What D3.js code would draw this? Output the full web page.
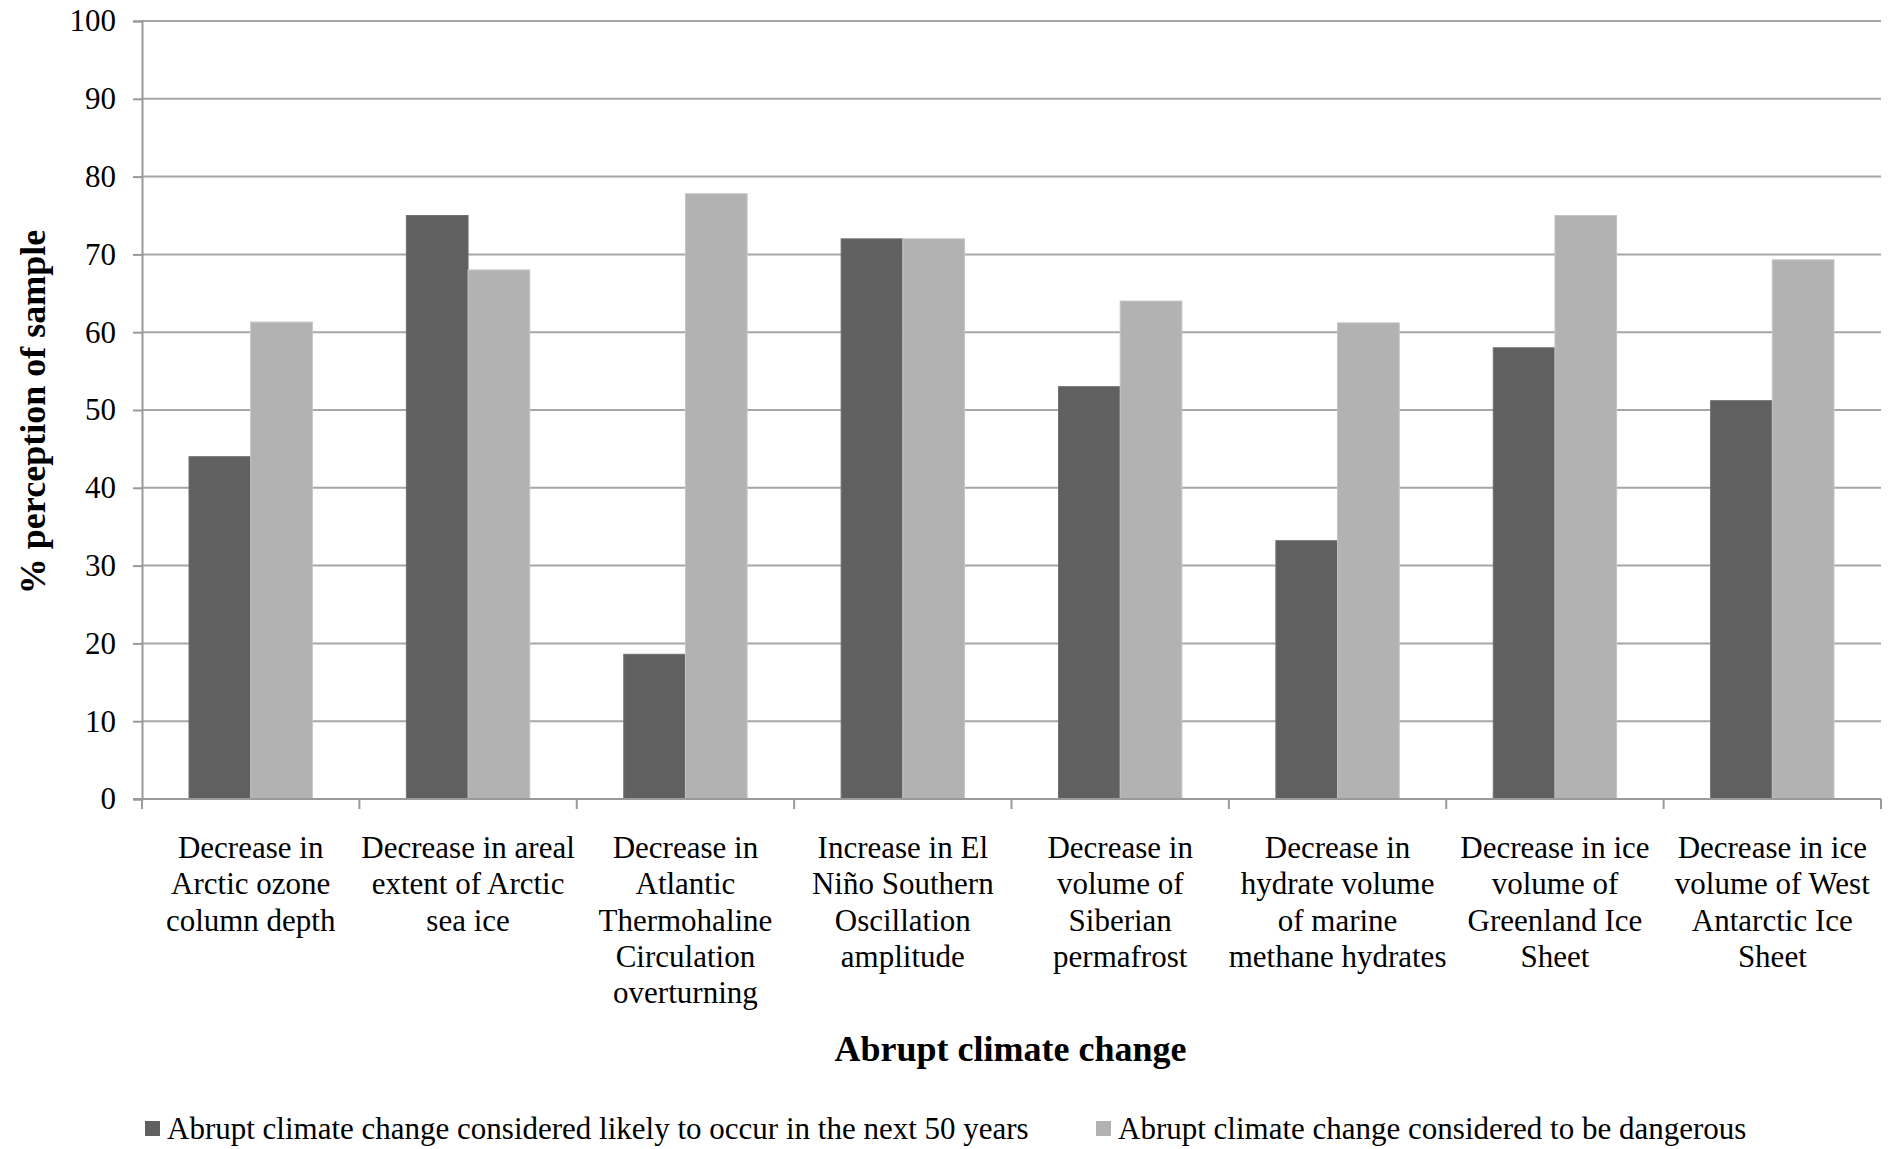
<!DOCTYPE html>
<html>
<head>
<meta charset="utf-8">
<script src="https://cdn.jsdelivr.net/npm/d3@7/dist/d3.min.js"></script>
<style>
  html, body { margin: 0; padding: 0; background: #fff; }
  svg text { font-family: "Liberation Serif", "DejaVu Serif", serif; fill: #000; }
</style>
</head>
<body>
<svg id="chart" width="1899" height="1149"></svg>
<script>
// Survey results: perception of abrupt climate change events
const categories = [
  ["Decrease in", "Arctic ozone", "column depth"],
  ["Decrease in areal", "extent of  Arctic", "sea ice"],
  ["Decrease in", "Atlantic", "Thermohaline", "Circulation", "overturning"],
  ["Increase in El", "Niño Southern", "Oscillation", "amplitude"],
  ["Decrease in", "volume of", "Siberian", "permafrost"],
  ["Decrease in", "hydrate volume", "of marine", "methane hydrates"],
  ["Decrease in ice", "volume of", "Greenland Ice", "Sheet"],
  ["Decrease in ice", "volume of West", "Antarctic Ice", "Sheet"]
];
const likelyValues    = [44, 75, 18.6, 72, 53, 33.2, 58, 51.2];
const dangerousValues = [61.3, 68, 77.8, 72, 64, 61.2, 75, 69.3];
const seriesNames = [
  "Abrupt climate change considered likely to occur in the next 50 years",
  "Abrupt climate change considered to be dangerous"
];
const yTicks = [0, 10, 20, 30, 40, 50, 60, 70, 80, 90, 100];
const yTitle = "% perception of sample";
const xTitle = "Abrupt climate change";

const colors = ["#606060", "#b2b2b2"];
const strokes = ["#707070", "#c4c4c4"];

const svg = d3.select("#chart");
const plotLeft = 142, plotRight = 1881, plotTop = 21, plotBottom = 799;

const x = d3.scaleBand()
  .domain(d3.range(categories.length))
  .range([plotLeft, plotRight])
  .paddingInner(0)
  .paddingOuter(0);
const inner = d3.scaleBand()
  .domain([0, 1])
  .range([0, x.bandwidth()])
  .paddingOuter(0.762)
  .paddingInner(0);
const y = d3.scaleLinear().domain([0, 100]).range([plotBottom, plotTop]);

// gridlines
svg.append("g").selectAll("line")
  .data(yTicks.filter(d => d > 0))
  .join("line")
  .attr("x1", plotLeft).attr("x2", plotRight)
  .attr("y1", d => y(d)).attr("y2", d => y(d))
  .attr("stroke", "#a6a6a6").attr("stroke-width", 2);

// value axis
const yAxis = svg.append("g")
  .attr("transform", `translate(${plotLeft},0)`)
  .call(d3.axisLeft(y).tickValues(yTicks).tickSize(9).tickPadding(17));
yAxis.select(".domain").attr("stroke", "#9a9a9a").attr("stroke-width", 2);
yAxis.selectAll(".tick line").attr("stroke", "#9a9a9a").attr("stroke-width", 2);
yAxis.selectAll(".tick text")
  .style("font-family", "Liberation Serif, serif")
  .style("font-size", "31px").attr("fill", "#000");

// bars
const series = [likelyValues, dangerousValues];
series.forEach((vals, s) => {
  svg.append("g").selectAll("rect")
    .data(vals)
    .join("rect")
    .attr("x", (d, i) => x(i) + inner(s))
    .attr("width", inner.bandwidth())
    .attr("y", d => y(d))
    .attr("height", d => y(0) - y(d))
    .attr("fill", colors[s])
    .attr("stroke", strokes[s])
    .attr("stroke-width", 1);
});

// category axis line and ticks
svg.append("line")
  .attr("x1", plotLeft - 9).attr("x2", plotRight)
  .attr("y1", plotBottom).attr("y2", plotBottom)
  .attr("stroke", "#9a9a9a").attr("stroke-width", 2);
svg.append("g").selectAll("line")
  .data(d3.range(categories.length + 1))
  .join("line")
  .attr("x1", i => plotLeft + i * x.step()).attr("x2", i => plotLeft + i * x.step())
  .attr("y1", plotBottom).attr("y2", plotBottom + 10)
  .attr("stroke", "#9a9a9a").attr("stroke-width", 2);

// category labels
const labels = svg.append("g");
categories.forEach((lines, i) => {
  const t = labels.append("text")
    .attr("text-anchor", "middle")
    .style("font-size", "31px");
  lines.forEach((ln, k) => {
    t.append("tspan")
      .attr("x", x(i) + x.bandwidth() / 2)
      .attr("y", 858 + k * 36.3)
      .text(ln);
  });
});

// axis titles
svg.append("text")
  .attr("transform", `translate(45,412) rotate(-90)`)
  .attr("text-anchor", "middle")
  .style("font-size", "36px").style("font-weight", "bold")
  .text(yTitle);
svg.append("text")
  .attr("x", (plotLeft + plotRight) / 2 - 1).attr("y", 1061)
  .attr("text-anchor", "middle")
  .style("font-size", "36px").style("font-weight", "bold")
  .text(xTitle);

// legend
const legendX = [145, 1096];
seriesNames.forEach((name, s) => {
  svg.append("rect")
    .attr("x", legendX[s]).attr("y", 1121)
    .attr("width", 15).attr("height", 15)
    .attr("fill", colors[s]);
  svg.append("text")
    .attr("x", legendX[s] + 22).attr("y", 1139)
    .style("font-size", "31px")
    .text(name);
});
</script>
</body>
</html>
